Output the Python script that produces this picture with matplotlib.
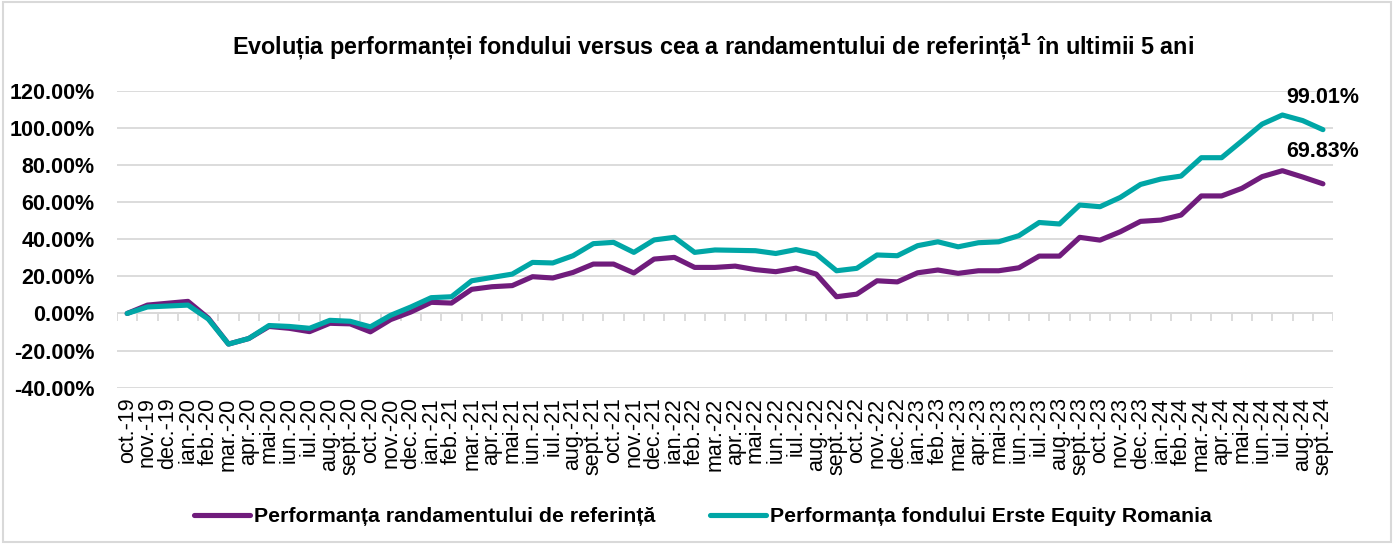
import numpy as np
import matplotlib.pyplot as plt
from matplotlib.patches import Rectangle

luni = ["oct.", "nov.", "dec.", "ian.", "feb.", "mar.", "apr.", "mai-",
        "iun.", "iul.", "aug.", "sept."]
# oct.-19 ... sept.-24, 60 de luni
etichete = []
for k in range(60):
    m = k % 12
    an = 19 + (9 + k) // 12
    sep = "" if luni[m].endswith("-") else "-"
    etichete.append(f"{luni[m]}{sep}{an}")

# randamentul de referinta (%)
referinta = [0.0, 4.5, 5.5, 6.5, -2.5, -16.5, -13.5, -7.0, -8.0, -9.8,
             -5.3, -5.6, -9.9, -3.3, 0.8, 6.0, 5.6, 13.0, 14.4, 15.0,
             19.8, 19.1, 22.1, 26.6, 26.6, 21.8, 29.3, 30.2, 24.8, 24.8,
             25.5, 23.6, 22.5, 24.4, 21.2, 9.0, 10.4, 17.6, 17.0, 21.9,
             23.4, 21.6, 23.0, 23.0, 24.6, 30.9, 30.9, 41.0, 39.5, 44.0,
             49.6, 50.3, 53.0, 63.3, 63.3, 67.4, 73.7, 76.9, 73.5, 69.83]
# fondul Erste Equity Romania (%)
fond = [0.0, 3.5, 4.0, 4.5, -3.0, -16.5, -13.5, -6.5, -7.0, -8.0,
        -3.7, -4.2, -7.2, -1.0, 3.5, 8.5, 9.0, 17.6, 19.4, 21.2,
        27.5, 27.2, 31.1, 37.6, 38.3, 32.9, 39.6, 41.0, 32.9, 34.2,
        34.0, 33.8, 32.3, 34.4, 32.0, 23.0, 24.3, 31.5, 31.1, 36.5,
        38.6, 35.9, 38.1, 38.6, 41.9, 49.0, 48.2, 58.4, 57.5, 62.5,
        69.5, 72.4, 74.0, 83.9, 83.9, 92.9, 102.0, 106.9, 103.9, 99.01]

mov = "#701C7C"
turcoaz = "#00A6A6"
grila = "#D9D9D9"

plt.rcParams["font.family"] = ["Liberation Sans", "DejaVu Sans"]

fig = plt.figure(figsize=(13.95, 5.44), dpi=100)
ax = fig.add_axes([0.0839, 0.2873, 0.9556 - 0.0839, 0.8333 - 0.2873])

x = np.arange(len(etichete))
l1, = ax.plot(x, referinta, color=mov, lw=3.7, solid_capstyle="round",
              solid_joinstyle="round", zorder=3)
l2, = ax.plot(x, fond, color=turcoaz, lw=3.7, solid_capstyle="round",
              solid_joinstyle="round", zorder=4)

ax.set_xlim(-0.5, len(x) - 0.5)
ax.set_ylim(-40, 120)
ax.set_yticks(np.arange(-40, 121, 20))
ax.set_yticklabels([f"{v:.2f}%" for v in np.arange(-40, 121, 20)],
                   fontsize=15.5, fontweight="bold")
ax.yaxis.grid(True, color=grila, lw=1.3)
ax.set_axisbelow(True)
for s in ax.spines.values():
    s.set_visible(False)
ax.tick_params(axis="y", length=0, pad=16)

ax.set_xticks(x)
ax.set_xticklabels(etichete, rotation=90, fontsize=15.5, va="top")
ax.tick_params(axis="x", length=0, pad=7)

# axa orizontala la 0% cu marcaje intre luni
ax.axhline(0, color=grila, lw=1.3, zorder=1)
ax.vlines(np.arange(-0.5, len(x)), -3.8, 0, color=grila, lw=1.3, zorder=1)

# valorile finale
ax.annotate(f"{fond[-1]:.2f}%", (x[-1], fond[-1]), xytext=(0, 23),
            textcoords="offset points", ha="center", va="center",
            fontsize=15.5, fontweight="bold")
ax.annotate(f"{referinta[-1]:.2f}%", (x[-1], referinta[-1]), xytext=(0, 23),
            textcoords="offset points", ha="center", va="center",
            fontsize=15.5, fontweight="bold")

fig.text(0.511, 1 - 47 / 544,
         "Evoluția performanței fondului versus cea a randamentului de referință$^{\\mathbf{1}}$ în ultimii 5 ani",
         ha="center", va="center", fontsize=16.8, fontweight="bold")

fig.legend([l1, l2],
           ["Performanța randamentului de referință",
            "Performanța fondului Erste Equity Romania"],
           loc="center", bbox_to_anchor=(0.504, 1 - 517 / 544), ncol=2,
           frameon=False, handlelength=2.6, handletextpad=0.2,
           columnspacing=2.6, prop={"size": 15.3, "weight": "bold"})

fig.patches.append(Rectangle((0.002, 0.003), 0.995, 0.993,
                             transform=fig.transFigure, fill=False,
                             edgecolor=grila, lw=1.5))

fig.savefig("out.png", dpi=100)
